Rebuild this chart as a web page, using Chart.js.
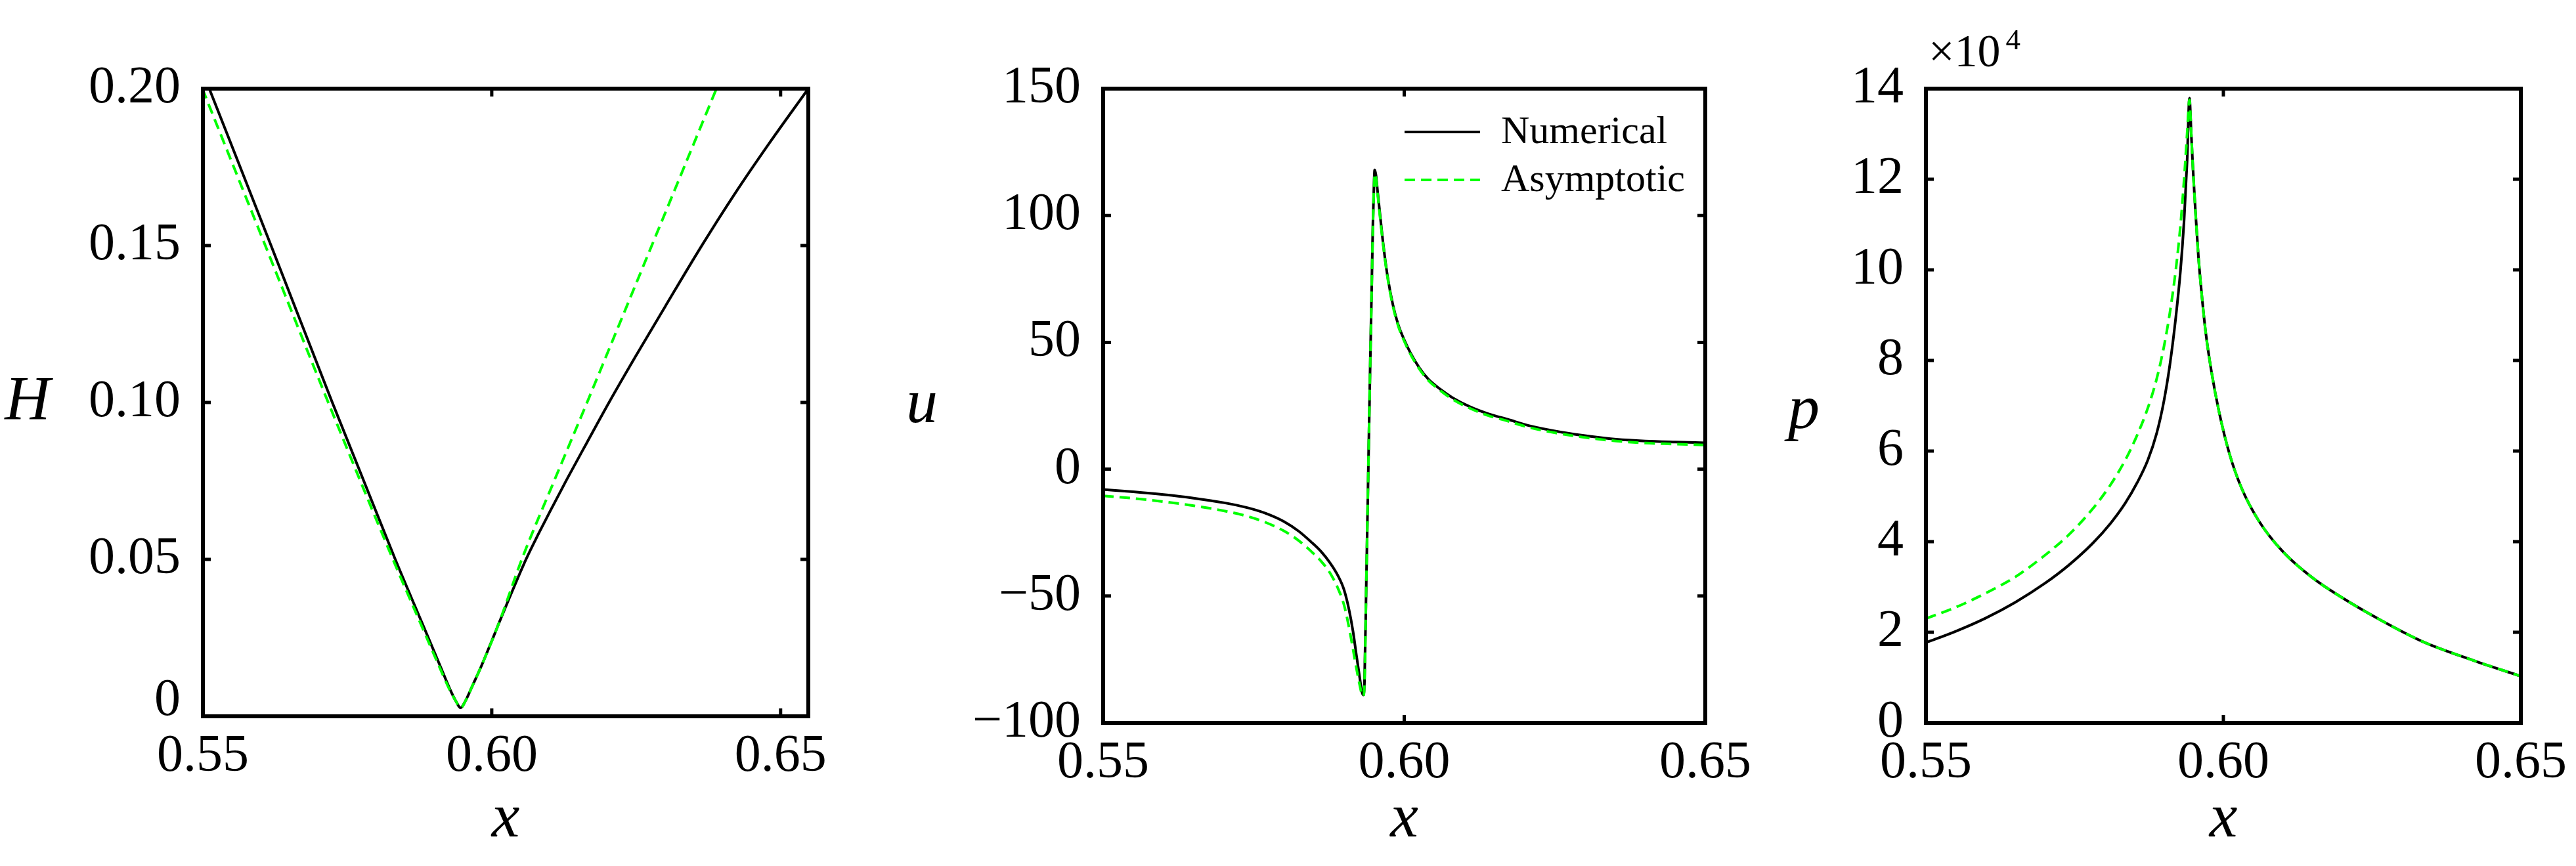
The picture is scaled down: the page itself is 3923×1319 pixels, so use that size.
<!DOCTYPE html>
<html><head><meta charset="utf-8">
<script src="https://cdn.jsdelivr.net/npm/chart.js@4.4.1/dist/chart.umd.min.js"></script>
<style>
html,body{margin:0;padding:0;background:#fff;}
#wrap{position:relative;width:3923px;height:1319px;background:#fff;overflow:hidden;}
canvas{position:absolute;top:0;}
</style></head><body>
<div id="wrap">
<canvas id="c1" width="1330" height="1319" style="left:0px"></canvas>
<canvas id="c2" width="1370" height="1319" style="left:1320px"></canvas>
<canvas id="c3" width="1233" height="1319" style="left:2690px"></canvas>
</div>
<script>
const SERIF = "'Liberation Serif','Times New Roman',Times,serif";

const seriesNames = ['Numerical', 'Asymptotic'];

const xTicks = [0.55, 0.60, 0.65];
const xTickLabels = ['0.55', '0.60', '0.65'];

const hTicks = [0, 0.05, 0.10, 0.15, 0.20];
const hTickLabels = ['0', '0.05', '0.10', '0.15', '0.20'];
const uTicks = [-100, -50, 0, 50, 100, 150];
const uTickLabels = ['\u2212100', '\u221250', '0', '50', '100', '150'];
const pTicks = [0, 2, 4, 6, 8, 10, 12, 14];
const pTickLabels = ['0', '2', '4', '6', '8', '10', '12', '14'];

// Panel 1: H(x)
const hNumX = [0.5511, 0.5618, 0.5724, 0.5833, 0.5880, 0.5912, 0.5928, 0.5938, 0.5946, 0.5955, 0.5966, 0.5982, 0.6000, 0.6012, 0.6030, 0.6045, 0.6060, 0.6080, 0.6100, 0.6130, 0.6165, 0.6203, 0.6250, 0.6300, 0.6362, 0.6420, 0.6480, 0.6548];
const hNumY = [0.2000, 0.1500, 0.1000, 0.0500, 0.0295, 0.0155, 0.0085, 0.0048, 0.0027, 0.0051, 0.0095, 0.0160, 0.0240, 0.0295, 0.0375, 0.0440, 0.0503, 0.0578, 0.0650, 0.0755, 0.0873, 0.1000, 0.1150, 0.1305, 0.1495, 0.1663, 0.1825, 0.2000];
const hAsyX = [0.5499, 0.5608, 0.5717, 0.5829, 0.5877, 0.5910, 0.5927, 0.5938, 0.5946, 0.5955, 0.5966, 0.5982, 0.6012, 0.6052, 0.6108, 0.6165, 0.6221, 0.6277, 0.6333, 0.6389];
const hAsyY = [0.2000, 0.1500, 0.1000, 0.0500, 0.0295, 0.0155, 0.0085, 0.0048, 0.0027, 0.0051, 0.0095, 0.0160, 0.0295, 0.0500, 0.0750, 0.1000, 0.1250, 0.1500, 0.1750, 0.2000];

// Panel 2: u(x)
const uNumX = [0.5500, 0.5550, 0.5600, 0.5650, 0.5700, 0.5740, 0.5770, 0.5800, 0.5825, 0.5845, 0.5862, 0.5877, 0.5890, 0.5900, 0.5908, 0.5915, 0.5921, 0.5926, 0.5930, 0.5932, 0.5934, 0.5937, 0.5940, 0.5943, 0.5946, 0.5948, 0.5950, 0.5951, 0.5953, 0.5956, 0.5960, 0.5965, 0.5972, 0.5981, 0.5990, 0.6000, 0.6010, 0.6025, 0.6040, 0.6060, 0.6080, 0.6110, 0.6140, 0.6171, 0.6210, 0.6261, 0.6310, 0.6352, 0.6400, 0.6450, 0.6500];
const uNumY = [-8.0, -8.9, -10.0, -11.4, -13.2, -15.2, -17.4, -20.6, -24.5, -28.6, -32.5, -37.0, -42.0, -47.5, -55.0, -64.0, -74.0, -82.0, -88.0, -89.0, -84.0, -45.0, -5.0, 35.0, 72.0, 97.0, 114.0, 118.0, 116.0, 109.0, 100.0, 89.0, 76.5, 65.0, 57.0, 51.0, 46.0, 40.0, 35.5, 31.5, 28.2, 24.5, 21.8, 19.7, 17.0, 14.6, 12.9, 11.8, 11.1, 10.7, 10.4];
const uAsyX = [0.5500, 0.5550, 0.5600, 0.5650, 0.5700, 0.5740, 0.5770, 0.5800, 0.5825, 0.5845, 0.5862, 0.5877, 0.5890, 0.5900, 0.5908, 0.5915, 0.5921, 0.5926, 0.5930, 0.5932, 0.5934, 0.5937, 0.5940, 0.5943, 0.5946, 0.5948, 0.5950, 0.5951, 0.5953, 0.5956, 0.5960, 0.5965, 0.5972, 0.5981, 0.5990, 0.6000, 0.6010, 0.6025, 0.6040, 0.6060, 0.6080, 0.6110, 0.6140, 0.6171, 0.6210, 0.6261, 0.6310, 0.6352, 0.6400, 0.6450, 0.6500];
const uAsyY = [-10.5, -11.5, -12.8, -14.4, -16.4, -18.6, -21.0, -24.3, -28.2, -32.3, -36.3, -41.0, -47.0, -53.5, -62.0, -71.0, -79.0, -85.0, -89.0, -89.5, -84.5, -45.0, -5.0, 35.0, 71.0, 95.5, 112.5, 116.5, 115.0, 108.0, 99.0, 88.5, 76.0, 64.5, 56.5, 50.5, 45.5, 39.5, 35.0, 31.0, 27.6, 23.9, 21.1, 19.0, 16.3, 13.9, 12.2, 11.1, 10.3, 9.9, 9.5];

// Panel 3: p(x), in units of 10^4
const pNumX = [0.5500, 0.5550, 0.5600, 0.5650, 0.5700, 0.5740, 0.5780, 0.5810, 0.5835, 0.5855, 0.5873, 0.5888, 0.5900, 0.5910, 0.5920, 0.5928, 0.5934, 0.5939, 0.5943, 0.5946, 0.5949, 0.5953, 0.5958, 0.5964, 0.5970, 0.5980, 0.5993, 0.6010, 0.6030, 0.6060, 0.6100, 0.6150, 0.6200, 0.6260, 0.6334, 0.6420, 0.6500];
const pNumY = [1.77, 2.02, 2.31, 2.66, 3.08, 3.48, 3.96, 4.40, 4.85, 5.30, 5.80, 6.40, 7.10, 7.90, 8.95, 10.00, 11.10, 12.40, 13.79, 13.00, 12.20, 11.30, 10.30, 9.40, 8.65, 7.75, 6.85, 5.95, 5.20, 4.45, 3.78, 3.20, 2.76, 2.30, 1.80, 1.38, 1.03];
const pAsyX = [0.5500, 0.5550, 0.5600, 0.5650, 0.5700, 0.5740, 0.5780, 0.5810, 0.5835, 0.5855, 0.5873, 0.5888, 0.5900, 0.5910, 0.5920, 0.5928, 0.5934, 0.5939, 0.5943, 0.5946, 0.5949, 0.5953, 0.5958, 0.5964, 0.5970, 0.5980, 0.5993, 0.6010, 0.6030, 0.6060, 0.6100, 0.6150, 0.6200, 0.6260, 0.6334, 0.6420, 0.6500];
const pAsyY = [2.30, 2.55, 2.86, 3.22, 3.70, 4.15, 4.72, 5.25, 5.80, 6.35, 6.95, 7.60, 8.30, 9.05, 10.00, 11.00, 12.00, 13.00, 13.75, 13.00, 12.20, 11.30, 10.30, 9.40, 8.65, 7.75, 6.85, 5.95, 5.20, 4.45, 3.78, 3.20, 2.76, 2.30, 1.80, 1.38, 1.03];

const pairs = (xs, ys) => xs.map((x, i) => ({x: x, y: ys[i]}));

function ds(label, xs, ys, asy) {
  return {
    label: label,
    data: pairs(xs, ys),
    borderColor: asy ? '#00ff00' : '#000000',
    backgroundColor: asy ? '#00ff00' : '#000000',
    borderWidth: 4,
    borderDash: asy ? [16, 9] : [],
    borderCapStyle: 'butt',
    pointRadius: 0,
    showLine: true,
    fill: false,
    cubicInterpolationMode: 'monotone',
    order: asy ? 1 : 2
  };
}

const frameTicksPlugin = {
  id: 'frameTicks',
  afterDatasetsDraw(chart) {
    const ctx = chart.ctx, a = chart.chartArea, x = chart.scales.x, y = chart.scales.y;
    const L = 12;
    ctx.save();
    ctx.strokeStyle = '#000';
    ctx.lineWidth = 5;
    ctx.beginPath();
    x.ticks.forEach(t => {
      const px = x.getPixelForValue(t.value);
      ctx.moveTo(px, a.bottom); ctx.lineTo(px, a.bottom - L);
      ctx.moveTo(px, a.top); ctx.lineTo(px, a.top + L);
    });
    y.ticks.forEach(t => {
      const py = y.getPixelForValue(t.value);
      ctx.moveTo(a.left, py); ctx.lineTo(a.left + L, py);
      ctx.moveTo(a.right, py); ctx.lineTo(a.right - L, py);
    });
    ctx.stroke();
    ctx.lineWidth = 6;
    ctx.lineJoin = 'miter';
    ctx.strokeRect(a.left, a.top, a.right - a.left, a.bottom - a.top);
    ctx.restore();
  }
};

const yTitlePlugin = {
  id: 'yTitle',
  afterDraw(chart, args, opts) {
    if (!opts || !opts.text) return;
    const ctx = chart.ctx, a = chart.chartArea;
    ctx.save();
    ctx.font = 'italic 96px ' + SERIF;
    ctx.fillStyle = '#000';
    ctx.textAlign = 'center';
    ctx.textBaseline = 'alphabetic';
    ctx.fillText(opts.text, a.left - opts.dx, (a.top + a.bottom) / 2 + opts.dy);
    ctx.restore();
  }
};

const lineLegendPlugin = {
  id: 'lineLegend',
  afterDraw(chart, args, opts) {
    if (!opts || !opts.display) return;
    const ctx = chart.ctx, a = chart.chartArea;
    ctx.save();
    chart.data.datasets.forEach((d, i) => {
      const y0 = a.top + opts.top + i * opts.rowGap;
      const x0 = a.left + opts.left;
      ctx.strokeStyle = d.borderColor;
      ctx.lineWidth = d.borderWidth;
      ctx.lineCap = 'butt';
      ctx.setLineDash(d.borderDash || []);
      ctx.beginPath();
      ctx.moveTo(x0, y0); ctx.lineTo(x0 + opts.lineLen, y0);
      ctx.stroke();
      ctx.setLineDash([]);
      ctx.fillStyle = '#000';
      ctx.font = opts.fontSize + 'px ' + SERIF;
      ctx.textAlign = 'left';
      ctx.textBaseline = 'middle';
      ctx.fillText(d.label, x0 + opts.textGap, y0 + 1);
    });
    ctx.restore();
  }
};

const expLabelPlugin = {
  id: 'expLabel',
  afterDraw(chart, args, opts) {
    if (!opts || !opts.display) return;
    const ctx = chart.ctx, a = chart.chartArea;
    ctx.save();
    ctx.fillStyle = '#000';
    ctx.textAlign = 'left';
    ctx.textBaseline = 'alphabetic';
    ctx.font = '70px ' + SERIF;
    const x0 = a.left + 4;
    ctx.fillText(opts.base, x0, a.top - 34);
    const w = ctx.measureText(opts.base).width;
    ctx.font = '45px ' + SERIF;
    ctx.fillText(opts.exponent, x0 + w + 8, a.top - 60);
    ctx.restore();
  }
};

function makeChart(id, cfg) {
  return new Chart(document.getElementById(id), {
    type: 'scatter',
    data: { datasets: [ds(seriesNames[0], cfg.nx, cfg.ny, false), ds(seriesNames[1], cfg.ax, cfg.ay, true)] },
    options: {
      responsive: false,
      animation: false,
      devicePixelRatio: 1,
      events: [],
      layout: { padding: { top: 135, right: cfg.padRight, bottom: 0, left: 0 } },
      plugins: {
        legend: { display: false },
        tooltip: { enabled: false },
        yTitle: { text: cfg.yTitle, dx: cfg.yTitleDx, dy: cfg.yTitleDy },
        lineLegend: cfg.legend || { display: false },
        expLabel: cfg.exp || { display: false }
      },
      scales: {
        x: {
          type: 'linear', position: 'bottom', min: 0.55, max: cfg.xMax,
          afterBuildTicks: s => { s.ticks = xTicks.map(v => ({ value: v })); },
          afterFit: s => { s.height = cfg.xAxisH; },
          grid: { display: false, drawTicks: false, tickLength: 0 },
          border: { display: false },
          ticks: { callback: (v, i) => xTickLabels[i], font: { family: SERIF, size: 80 }, color: '#000', padding: 14, maxRotation: 0, minRotation: 0, autoSkip: false },
          title: { display: true, text: 'x', font: { family: SERIF, size: 96, style: 'italic' }, color: '#000', padding: { top: 0, bottom: 13 } }
        },
        y: {
          type: 'linear', position: 'left', min: cfg.yMin, max: cfg.yMax,
          afterBuildTicks: s => { s.ticks = cfg.yTicks.map(v => ({ value: v })); },
          afterFit: s => { s.width = cfg.yAxisW; },
          grid: { display: false, drawTicks: false, tickLength: 0 },
          border: { display: false },
          ticks: {
            callback: (v, i) => (cfg.liftFirst && i === 0) ? [cfg.yLabels[i], ''] : cfg.yLabels[i],
            font: { family: SERIF, size: 80, lineHeight: 0.575 }, color: '#000', padding: 34, autoSkip: false
          }
        }
      }
    },
    plugins: [frameTicksPlugin, yTitlePlugin, lineLegendPlugin, expLabelPlugin]
  });
}

makeChart('c1', {
  nx: hNumX, ny: hNumY, ax: hAsyX, ay: hAsyY,
  xMax: 0.6548, yMin: 0, yMax: 0.2, yTicks: hTicks, yLabels: hTickLabels, liftFirst: true,
  padRight: 1330 - 1231, yAxisW: 309, xAxisH: 1319 - 1091,
  yTitle: 'H', yTitleDx: 267, yTitleDy: 26
});
makeChart('c2', {
  nx: uNumX, ny: uNumY, ax: uAsyX, ay: uAsyY,
  xMax: 0.65, yMin: -100, yMax: 150, yTicks: uTicks, yLabels: uTickLabels,
  padRight: 1370 - 1277, yAxisW: 360, xAxisH: 1319 - 1101,
  yTitle: 'u', yTitleDx: 276, yTitleDy: 25,
  legend: { display: true, left: 459, top: 66, rowGap: 73, lineLen: 115, textGap: 147, fontSize: 60 }
});
makeChart('c3', {
  nx: pNumX, ny: pNumY, ax: pAsyX, ay: pAsyY,
  xMax: 0.65, yMin: 0, yMax: 14, yTicks: pTicks, yLabels: pTickLabels,
  padRight: 1233 - 1159, yAxisW: 243, xAxisH: 1319 - 1101,
  yTitle: 'p', yTitleDx: 186, yTitleDy: 34,
  exp: { display: true, base: '\u00d710', exponent: '4' }
});
</script>
</body></html>
